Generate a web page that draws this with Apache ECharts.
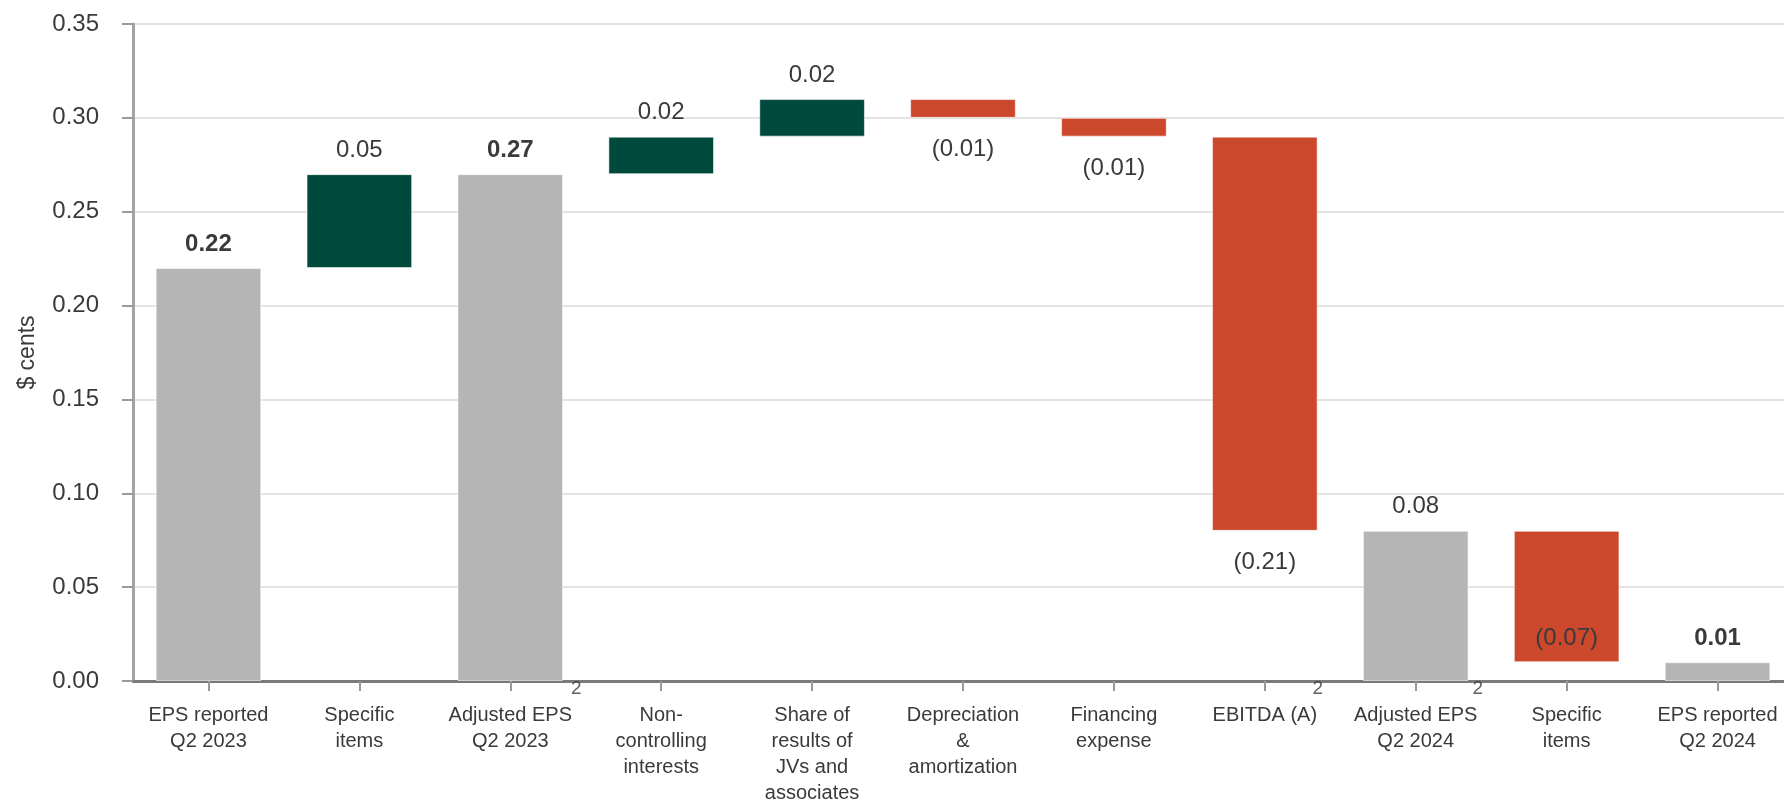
<!DOCTYPE html>
<html>
<head>
<meta charset="utf-8">
<title>EPS bridge Q2 2023 to Q2 2024</title>
<script src="https://cdn.jsdelivr.net/npm/echarts@6/dist/echarts.min.js"></script>
<style>
  html, body { margin: 0; padding: 0; background: #ffffff; overflow: hidden; }
  /* the plot runs slightly past the right edge of the page */
  #chart { width: 1800px; height: 806px; }
</style>
</head>
<body>
<div id="chart"></div>
<script>
// Step categories of the EPS bridge
const categories = [
  'EPS reported\nQ2 2023',
  'Specific\nitems',
  'Adjusted EPS\nQ2 2023',
  'Non-\ncontrolling\ninterests',
  'Share of\nresults of\nJVs and\nassociates',
  'Depreciation\n&\namortization',
  'Financing\nexpense',
  'EBITDA (A)',
  'Adjusted EPS\nQ2 2024',
  'Specific\nitems',
  'EPS reported\nQ2 2024'
];

// Value of each step ($ cents): totals are levels, the rest are changes
const stepValues = [0.22, 0.05, 0.27, 0.02, 0.02, -0.01, -0.01, -0.21, 0.08, -0.07, 0.01];
const isTotal    = [true, false, true, false, false, false, false, false, true, false, true];
const boldLabel  = [true, false, true, false, false, false, false, false, false, false, true];

// Categories carrying footnote 2
const footnoteCats = [2, 7, 8];
const footnoteMark = '2';

// Y axis scale
const yMin = 0, yMax = 0.35, yStep = 0.05;

const COLORS = { total: '#b5b5b5', up: '#00493d', down: '#cc482c' };
const FONT = '"Liberation Sans", Arial, sans-serif';
const TEXT = '#3a3a3a';

// Build floating bars: invisible base + visible segment
const baseData = [];
const barData = [];
let level = 0;
stepValues.forEach((v, i) => {
  let lo, hi;
  if (isTotal[i]) {
    lo = 0; hi = v; level = v;
  } else {
    const next = level + v;
    lo = Math.min(level, next); hi = Math.max(level, next);
    level = next;
  }
  const color = isTotal[i] ? COLORS.total : (v >= 0 ? COLORS.up : COLORS.down);
  let position = 'top', distance = 12;
  if (!isTotal[i] && v < 0) {
    // a drop ending close to the axis keeps its label inside the bar
    if (lo < 0.03) { position = 'insideBottom'; distance = 12; }
    else { position = 'bottom'; distance = 20; }
  }
  const txt = v < 0 ? '(' + Math.abs(v).toFixed(2) + ')' : v.toFixed(2);
  baseData.push(+lo.toFixed(4));
  barData.push({
    value: +(hi - lo).toFixed(4),
    itemStyle: { color: color },
    label: {
      show: true,
      position: position,
      distance: distance,
      formatter: txt,
      fontWeight: boldLabel[i] ? 'bold' : 'normal'
    }
  });
});

// footnote markers sit just right of their bar, on the axis line
const footnoteOffsets = { 2: 66, 7: 53, 8: 62 };
const footnoteData = footnoteCats.map(c => ({
  value: [c, 0],
  label: { offset: [footnoteOffsets[c] || 60, 8] }
}));

const chart = echarts.init(document.getElementById('chart'), null, { renderer: 'canvas' });
chart.setOption({
  animation: false,
  backgroundColor: '#ffffff',
  textStyle: { fontFamily: FONT },
  grid: { left: 133, right: 7, top: 24, bottom: 121.5, containLabel: false },
  xAxis: {
    type: 'category',
    data: categories,
    axisLine: { show: true, lineStyle: { color: '#7a7a7a', width: 3 } },
    axisTick: { show: true, alignWithLabel: true, length: 10, lineStyle: { color: '#9a9a9a', width: 2 } },
    axisLabel: {
      interval: 0, margin: 21, color: TEXT, fontSize: 20, lineHeight: 26,
      fontFamily: FONT, align: 'center'
    },
    splitLine: { show: false }
  },
  yAxis: {
    type: 'value',
    min: yMin, max: yMax, interval: yStep,
    name: '$ cents',
    nameLocation: 'middle',
    nameGap: 94,
    nameRotate: 90,
    nameTextStyle: { color: TEXT, fontSize: 23, fontFamily: FONT },
    axisLine: { show: true, lineStyle: { color: '#a3a3a3', width: 3 } },
    axisTick: { show: true, length: 11, lineStyle: { color: '#9a9a9a', width: 2 } },
    axisLabel: {
      margin: 34, color: TEXT, fontSize: 24, fontFamily: FONT,
      formatter: v => v.toFixed(2)
    },
    splitLine: { show: true, lineStyle: { color: '#e3e3e3', width: 2 } }
  },
  series: [
    {
      name: 'base',
      type: 'bar',
      stack: 'bridge',
      data: baseData,
      barWidth: '70%',
      itemStyle: { color: 'transparent' },
      emphasis: { disabled: true },
      silent: true
    },
    {
      name: 'step',
      type: 'bar',
      stack: 'bridge',
      data: barData,
      barWidth: '70%',
      itemStyle: { borderColor: 'rgba(255,255,255,0.55)', borderWidth: 1 },
      label: { color: TEXT, fontSize: 24, fontFamily: FONT },
      emphasis: { disabled: true }
    },
    {
      name: 'footnote',
      type: 'scatter',
      data: footnoteData,
      symbolSize: 0,
      silent: true,
      z: 5,
      label: {
        show: true,
        position: 'inside',
        formatter: footnoteMark,
        color: TEXT,
        fontSize: 19,
        fontFamily: FONT
      }
    }
  ]
});
</script>
</body>
</html>
